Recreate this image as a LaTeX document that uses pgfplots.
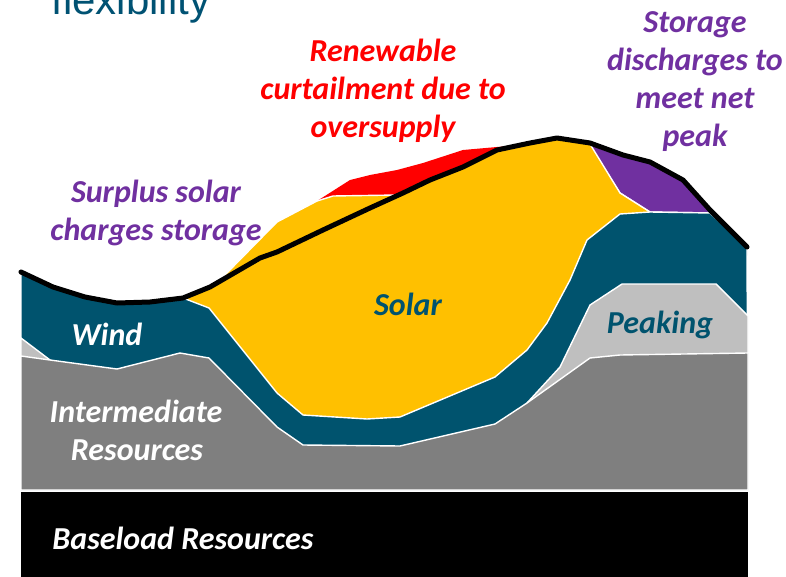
\documentclass[border=0pt]{standalone}
\usepackage{pgfplots}
\pgfplotsset{compat=1.18}
\usepackage{fontspec}
\setmainfont{Carlito}
\newfontfamily\titlefont{Liberation Sans}
\definecolor{teal}{RGB}{0,83,110}
\definecolor{solar}{RGB}{255,192,0}
\definecolor{purp}{RGB}{112,48,160}
\definecolor{lgray}{RGB}{191,191,191}
\definecolor{dgray}{RGB}{127,127,127}
\definecolor{ttl}{RGB}{0,82,115}
\newcommand\lblfont{\fontsize{16}{19.3}\selectfont\bfseries\itshape}
\newcommand\lbl[4]{\node[anchor=base,inner sep=0pt,text=#3,font=\lblfont] at (axis cs:#1,#2) {#4};}
\begin{document}
\begin{tikzpicture}
\begin{axis}[scale only axis, width=393pt, height=288.5pt,
  xmin=0, xmax=786, ymin=0, ymax=577, y dir=reverse, hide axis, clip=false]
\coordinate (TL) at (axis cs:0,0);
\coordinate (BR) at (axis cs:786,577);
% Baseload
\addplot[fill=black, draw=none] coordinates {(21,492)(748,492)(748,577)(21,577)} -- cycle;
% Curtailment (red)
\addplot[fill=red, draw=none] coordinates {(317,201)(350,180)(370,175)(397,170)(423,163)(463,150)(497,147)(512,146)(512,165)(420,195)(317,201)} -- cycle;
% Storage discharge (purple)
\addplot[fill=purp, draw=white, line width=0.7pt] coordinates {(588,143)(623,155)(650,162)(683,180)(712,211)(712,213)(650,212)(620,193)} -- cycle;
% Solar
\addplot[fill=solar, draw=white, line width=0.7pt] coordinates {(183,298)(205,290)(220,280)(277,222)(317,201)(333,196)(397,195)(405,192)(430,180)(463,167)(497,150)(530,143)(557,138)(590,144)(620,193)(650,212)(650,470)(183,470)} -- cycle;
% Wind
\addplot[fill=teal, draw=white, line width=0.7pt] coordinates {(21,272)(53,287)(85,297)(117,303)(150,302)(183,298)(209,308)(277,393)(303,415)(367,419)(400,417)(495,377)(527,350)(547,323)(570,280)(587,240)(620,214)(650,212)(710,213)(747,247)(748,490)(21,490)} -- cycle;
% Peaking
\addplot[fill=lgray, draw=white, line width=0.7pt] coordinates {(21,338)(50,360)(21,362)} -- cycle;
\addplot[fill=lgray, draw=white, line width=0.7pt] coordinates {(527,403)(560,367)(590,305)(622,284)(716,284)(748,316)(748,490)(527,490)} -- cycle;
% Intermediate
\addplot[fill=dgray, draw=white, line width=0.7pt] coordinates {(21,356)(50,360)(117,369)(180,353)(209,358)(277,427)(303,445)(400,446)(495,424)(527,403)(590,358)(620,355)(748,353)(748,490)(21,490)} -- cycle;
% Net load
\addplot[black, line width=2.5pt, line cap=round, line join=round] coordinates {(21,272)(53,287)(85,297)(117,303)(150,302)(183,298)(210,287)(260,258)(277,252)(323,230)(370,208)(403,193)(430,180)(463,167)(497,150)(530,143)(557,138)(590,143)(623,155)(650,162)(683,180)(710,210)(747,247)};
% Title (cut off at the top, as in the reference)
\node[anchor=base west,inner sep=0pt,text=ttl,font=\titlefont\fontsize{21}{25}\selectfont] at (axis cs:51,15) {flexibility};
% Labels
\lbl{383}{62}{red}{Renewable}
\lbl{383}{100}{red}{curtailment due to}
\lbl{383}{138}{red}{oversupply}
\lbl{156}{203}{purp}{Surplus solar}
\lbl{156}{241}{purp}{charges storage}
\lbl{695}{33}{purp}{Storage}
\lbl{695}{71}{purp}{discharges to}
\lbl{695}{109}{purp}{meet net}
\lbl{695}{147}{purp}{peak}
\lbl{107}{345}{white}{Wind}
\lbl{136}{422}{white}{Intermediate}
\lbl{137}{460}{white}{Resources}
\lbl{408}{315}{teal}{Solar}
\lbl{660}{333}{teal}{Peaking}
\node[anchor=base west,inner sep=0pt,text=white,font=\lblfont] at (axis cs:52,549) {Baseload Resources};
\end{axis}
\pgfresetboundingbox
\path[use as bounding box] (TL) rectangle (BR);
\end{tikzpicture}
\end{document}
